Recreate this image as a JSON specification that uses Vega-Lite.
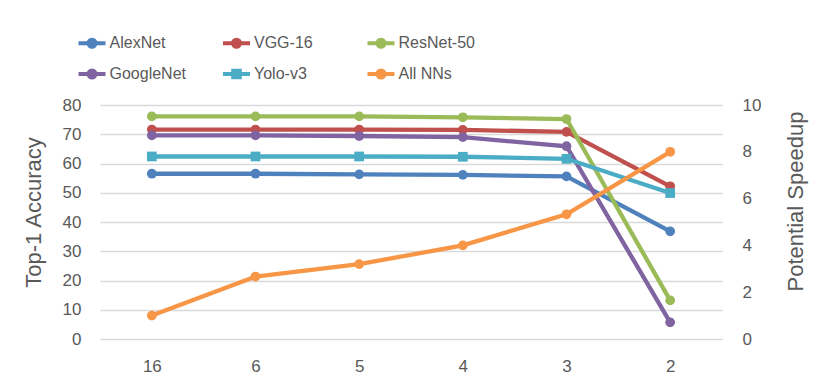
{
  "$schema": "https://vega.github.io/schema/vega-lite/v6.json",
  "width": 622,
  "height": 234,
  "autosize": {"type": "none"},
  "padding": {"left": 100, "top": 105, "right": 100, "bottom": 52},
  "background": "white",
  "config": {
    "view": {"stroke": null},
    "font": "Liberation Sans",
    "axis": {
      "labelFont": "Liberation Sans",
      "labelFontSize": 17,
      "labelColor": "#595959",
      "titleFont": "Liberation Sans",
      "titleFontSize": 22,
      "titleFontWeight": "normal",
      "titleColor": "#595959",
      "domain": false,
      "ticks": false
    },
    "legend": {
      "labelFont": "Liberation Sans",
      "labelFontSize": 16,
      "labelColor": "#595959"
    }
  },
  "layer": [
    {
      "data": {
        "values": [
          {"model": "AlexNet", "bits": "16", "acc": 56.5},
          {"model": "AlexNet", "bits": "6", "acc": 56.5},
          {"model": "AlexNet", "bits": "5", "acc": 56.3},
          {"model": "AlexNet", "bits": "4", "acc": 56.1},
          {"model": "AlexNet", "bits": "3", "acc": 55.6},
          {"model": "AlexNet", "bits": "2", "acc": 36.8},
          {"model": "VGG-16", "bits": "16", "acc": 71.6},
          {"model": "VGG-16", "bits": "6", "acc": 71.6},
          {"model": "VGG-16", "bits": "5", "acc": 71.6},
          {"model": "VGG-16", "bits": "4", "acc": 71.5},
          {"model": "VGG-16", "bits": "3", "acc": 70.8},
          {"model": "VGG-16", "bits": "2", "acc": 52.2},
          {"model": "ResNet-50", "bits": "16", "acc": 76.1},
          {"model": "ResNet-50", "bits": "6", "acc": 76.1},
          {"model": "ResNet-50", "bits": "5", "acc": 76.1},
          {"model": "ResNet-50", "bits": "4", "acc": 75.8},
          {"model": "ResNet-50", "bits": "3", "acc": 75.2},
          {"model": "ResNet-50", "bits": "2", "acc": 13.2},
          {"model": "GoogleNet", "bits": "16", "acc": 69.6},
          {"model": "GoogleNet", "bits": "6", "acc": 69.6},
          {"model": "GoogleNet", "bits": "5", "acc": 69.4},
          {"model": "GoogleNet", "bits": "4", "acc": 69.0},
          {"model": "GoogleNet", "bits": "3", "acc": 65.9},
          {"model": "GoogleNet", "bits": "2", "acc": 5.7},
          {"model": "Yolo-v3", "bits": "16", "acc": 62.4},
          {"model": "Yolo-v3", "bits": "6", "acc": 62.4},
          {"model": "Yolo-v3", "bits": "5", "acc": 62.4},
          {"model": "Yolo-v3", "bits": "4", "acc": 62.3},
          {"model": "Yolo-v3", "bits": "3", "acc": 61.6},
          {"model": "Yolo-v3", "bits": "2", "acc": 49.9}
        ]
      },
      "encoding": {
        "x": {
          "field": "bits", "type": "nominal",
          "sort": ["16", "6", "5", "4", "3", "2"],
          "scale": {"type": "point", "padding": 0.5},
          "axis": {"title": null, "labelAngle": 0, "labelPadding": 19, "grid": false}
        },
        "y": {
          "field": "acc", "type": "quantitative",
          "scale": {"domain": [0, 80]},
          "axis": {
            "title": "Top-1 Accuracy",
            "values": [0, 10, 20, 30, 40, 50, 60, 70, 80],
            "labelPadding": 19,
            "grid": true, "gridColor": "#D9D9D9", "gridWidth": 1.3,
            "titleX": -67, "titleY": 107, "titleAngle": 270, "titleBaseline": "middle", "titleAlign": "center"
          }
        },
        "color": {
          "field": "model", "type": "nominal",
          "scale": {
            "domain": ["AlexNet", "VGG-16", "ResNet-50", "GoogleNet", "Yolo-v3", "All NNs"],
            "range": ["#4F81BD", "#C0504D", "#9BBB59", "#8064A2", "#4BACC6", "#F79646"]
          },
          "legend": {
            "title": null,
            "orient": "none",
            "direction": "horizontal",
            "legendX": -20,
            "legendY": -74,
            "columns": 3,
            "gridAlign": "all",
            "columnPadding": 28.5,
            "rowPadding": 7,
            "padding": 0,
            "symbolSize": 400,
            "labelOffset": 5.5,
            "encode": {
              "symbols": {
                "update": {
                  "shape": {"signal": "datum.value === 'Yolo-v3' ? 'M-1.35,0L1.35,0M-0.33,-0.33L0.33,-0.33L0.33,0.33L-0.33,0.33Z' : 'M-1.35,0L1.35,0M-0.35,0A0.35,0.35,0,1,1,0.35,0A0.35,0.35,0,1,1,-0.35,0Z'"},
                  "fill": {"scale": "color", "field": "value"},
                  "stroke": {"scale": "color", "field": "value"},
                  "strokeWidth": {"value": 4},
                  "size": {"value": 400},
                  "opacity": {"value": 1},
                  "fillOpacity": {"value": 1},
                  "strokeOpacity": {"value": 1}
                }
              }
            }
          }
        }
      },
      "layer": [
        {"mark": {"type": "line", "strokeWidth": 4.3}},
        {
          "mark": {"type": "point", "filled": true, "opacity": 1},
          "encoding": {
            "shape": {
              "field": "model", "type": "nominal",
              "scale": {
                "domain": ["AlexNet", "VGG-16", "ResNet-50", "GoogleNet", "Yolo-v3"],
                "range": ["circle", "circle", "circle", "circle", "square"]
              },
              "legend": null
            },
            "size": {"value": 95}
          }
        }
      ]
    },
    {
      "data": {
        "values": [
          {"model": "All NNs", "bits": "16", "speedup": 1.0},
          {"model": "All NNs", "bits": "6", "speedup": 2.67},
          {"model": "All NNs", "bits": "5", "speedup": 3.2},
          {"model": "All NNs", "bits": "4", "speedup": 4.0},
          {"model": "All NNs", "bits": "3", "speedup": 5.33},
          {"model": "All NNs", "bits": "2", "speedup": 8.0}
        ]
      },
      "encoding": {
        "x": {"field": "bits", "type": "nominal", "sort": ["16", "6", "5", "4", "3", "2"]},
        "y": {
          "field": "speedup", "type": "quantitative",
          "scale": {"domain": [0, 10]},
          "axis": {
            "orient": "right",
            "title": "Potential Speedup",
            "values": [0, 2, 4, 6, 8, 10],
            "labelPadding": 20,
            "grid": false,
            "titleX": 73, "titleY": 96, "titleAngle": 270, "titleBaseline": "middle", "titleAlign": "center"
          }
        },
        "color": {"field": "model", "type": "nominal"}
      },
      "layer": [
        {"mark": {"type": "line", "strokeWidth": 4.3}},
        {"mark": {"type": "point", "filled": true, "opacity": 1, "shape": "circle", "size": 95}}
      ]
    }
  ],
  "resolve": {"scale": {"y": "independent"}}
}
